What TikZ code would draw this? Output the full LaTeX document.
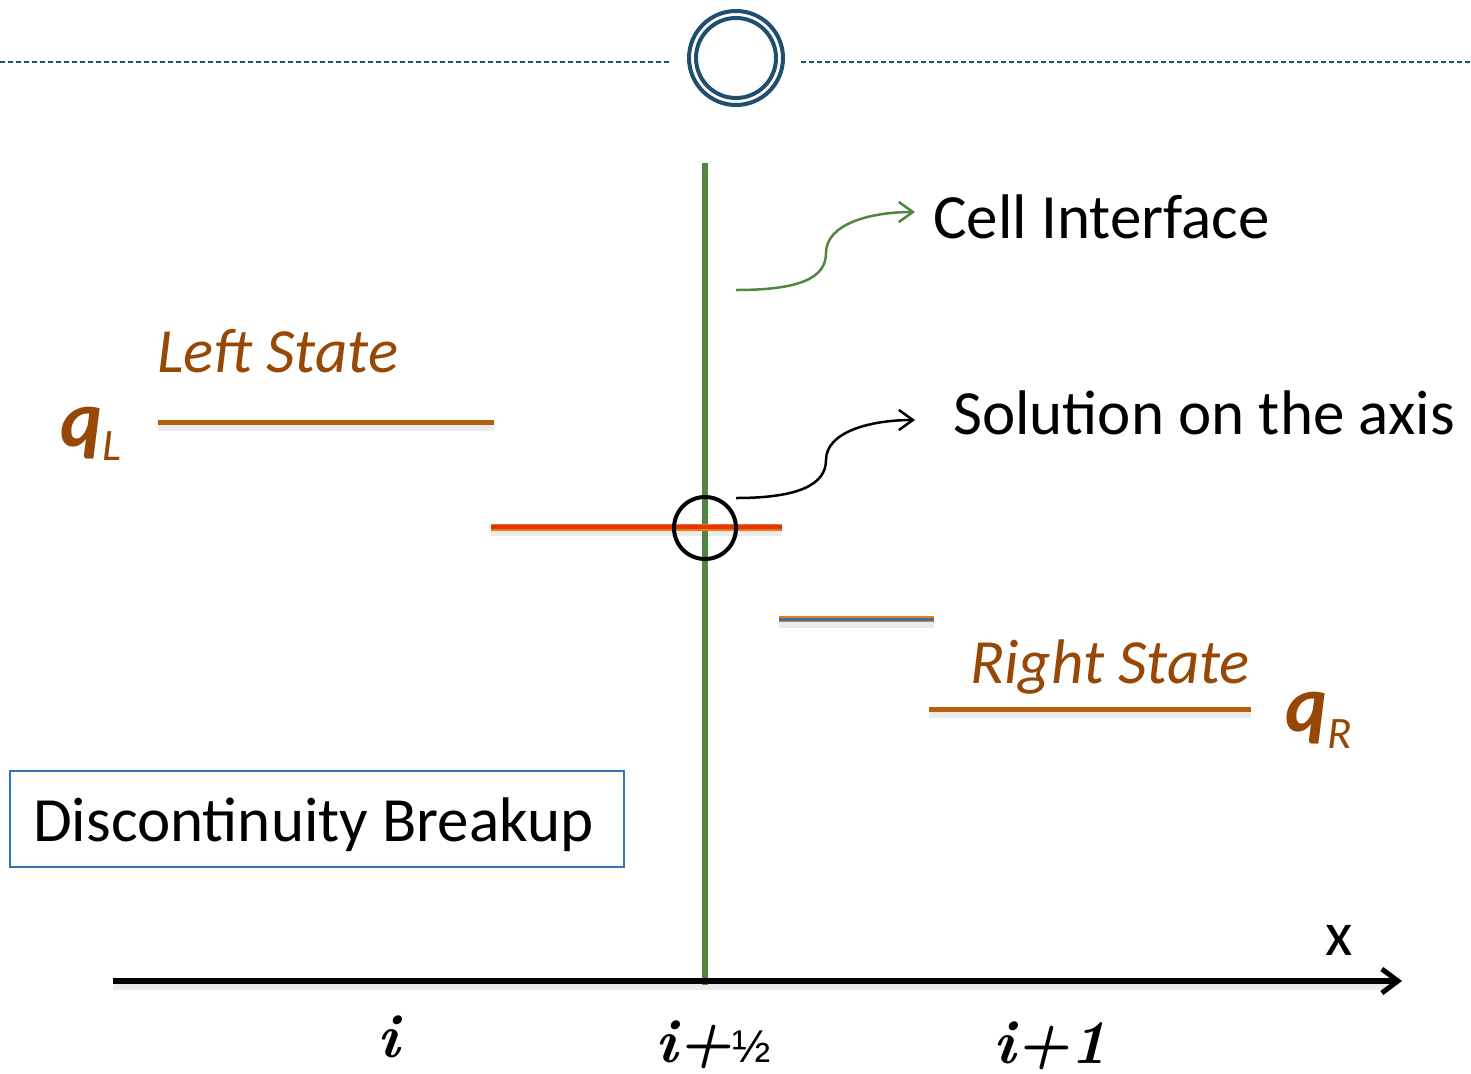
\documentclass[tikz,border=0pt]{standalone}
\usepackage{fontspec}
\newfontfamily\calib{Carlito}
\newfontfamily\lmr{Latin Modern Roman}
\newfontfamily\libsans{Liberation Sans}
\usetikzlibrary{arrows.meta}
\definecolor{ringblue}{RGB}{31,78,110}
\definecolor{ifgreen}{RGB}{80,134,64}
\definecolor{stateline}{RGB}{182,96,10}
\definecolor{statetext}{RGB}{151,72,7}
\definecolor{redline}{RGB}{232,50,0}
\definecolor{orangeedge}{RGB}{240,120,20}
\definecolor{midblue}{RGB}{46,117,182}
\definecolor{boxblue}{RGB}{46,117,182}
\tikzset{
  lbl/.style={inner sep=0pt, anchor=base west, font=\calib\fontsize{63}{70}\selectfont},
  statelbl/.style={lbl, text=statetext, font=\calib\itshape\fontsize{63}{70}\selectfont},
  stateseg/.style={draw=stateline, line width=5pt},
  shadowseg/.style={draw=black, opacity=0.08, line width=8pt},
  curvarrow/.style={line width=2.5pt, -{Straight Barb[length=14pt,width=20pt,line width=2.5pt]}},
  idx/.style={inner sep=0pt, anchor=base west, font=\lmr\bfseries\itshape\fontsize{62}{70}\selectfont},
  qlbl/.style={inner sep=0pt, anchor=base west, text=statetext, font=\calib\bfseries\itshape\fontsize{80}{90}\selectfont},
  qsub/.style={inner sep=0pt, anchor=base west, text=statetext, font=\calib\itshape\fontsize{45}{50}\selectfont}
}
\begin{document}
\begin{tikzpicture}[x=1pt,y=-1pt]
\useasboundingbox (0,0) rectangle (1471,1073);
% top ornament
\coordinate (dl0) at (0,62);
\coordinate (dl1) at (670,62);
\coordinate (dr0) at (801,62);
\coordinate (dr1) at (1471,62);
\draw[ringblue, line width=1.2pt, dash pattern=on 5pt off 3pt] (dl0) -- (dl1);
\draw[ringblue, line width=1.2pt, dash pattern=on 5pt off 3pt] (dr0) -- (dr1);
\node[circle, draw=ringblue, line width=4pt, minimum size=94pt, inner sep=0pt] (ringout) at (736,58) {};
\node[circle, draw=ringblue, line width=4pt, minimum size=80pt, inner sep=0pt] (ringin) at (736,58) {};

% shadows
\coordinate (lsA) at (158,422); \coordinate (lsB) at (494,422);
\coordinate (rdA) at (491,527); \coordinate (rdB) at (782,527);
\coordinate (blA) at (779,619); \coordinate (blB) at (934,619);
\coordinate (rsA) at (929,709); \coordinate (rsB) at (1251,709);
\coordinate (axA) at (113,981); \coordinate (axB) at (1402,981);
\draw[shadowseg] ([yshift=-5pt]lsA) -- ([yshift=-5pt]lsB);
\draw[shadowseg] ([yshift=-5pt]rdA) -- ([yshift=-5pt]rdB);
\draw[shadowseg] ([yshift=-5pt]blA) -- ([yshift=-5pt]blB);
\draw[shadowseg] ([yshift=-5pt]rsA) -- ([yshift=-5pt]rsB);
\draw[shadowseg] ([yshift=-5pt]axA) -- ([yshift=-5pt,xshift=-12pt]axB);

% interface line
\coordinate (ifTop) at (705,163);
\coordinate (ifBot) at (705,985);
\draw[ifgreen, line width=6pt] (ifTop) -- (ifBot);

% axis
\draw[black, line width=5.5pt, -{Straight Barb[length=16pt,width=24pt,line width=5pt]}] (axA) -- (axB);
\node[lbl] (xlbl) at (1325,955) {x};

% state lines
\draw[stateseg] (lsA) -- (lsB);
\draw[orangeedge, line width=7pt] (rdA) -- (rdB);
\draw[redline, line width=4.5pt] (rdA) -- (rdB);
\draw[orangeedge, line width=6pt] (blA) -- (blB);
\draw[midblue, line width=3pt] (blA) -- (blB);
\draw[stateseg] (rsA) -- (rsB);

% solution circle
\node[circle, draw=black, line width=4pt, minimum size=62pt, inner sep=0pt] (sol) at (705,528) {};

% labels
\node[lbl] (cell) at (933,238) {Cell Interface};
\node[lbl] (solt) at (953,434) {Solution on the axis};
\node[statelbl] (left) at (157,372) {Left State};
\node[statelbl] (right) at (970,683) {Right State};
\node[qlbl] (qL) at (60,446) {q};
\node[qsub] (qLs) at (102,460) {L};
\node[qlbl] (qR) at (1285,731) {q};
\node[qsub] (qRs) at (1327,748) {R};

% curved arrows
\coordinate (cA) at (736,290);
\coordinate (cB) at (826,253);
\coordinate (cC) at (915,212);
\draw[ifgreen, curvarrow] (cA) .. controls (800,290) and (826,278) .. (cB) .. controls (826,224) and (870,212) .. (cC);
\coordinate (sA) at (736,498);
\coordinate (sB) at (826,460);
\coordinate (sC) at (915,420);
\draw[black, curvarrow] (sA) .. controls (800,498) and (826,484) .. (sB) .. controls (826,432) and (870,420) .. (sC);

% box
\node[draw=boxblue, line width=2pt, minimum width=614pt, minimum height=96pt, inner sep=0pt] (box) at (317,819) {};
\node[lbl] (boxtext) at (33,841) {Discontinuity Breakup};

% index labels
\node[idx] (ii) at (377,1057) {i};
\node[idx] (ih) at (655,1062) {i+\libsans\mdseries\upshape\fontsize{46}{50}\selectfont ½};
\node[idx] (i1) at (993,1063) {i+1};
\end{tikzpicture}
\end{document}
